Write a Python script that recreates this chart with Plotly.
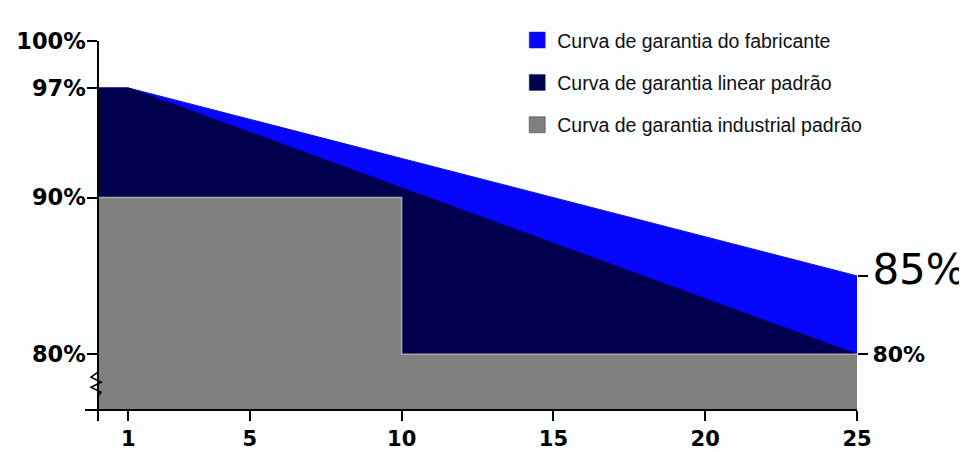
import plotly.graph_objects as go

# ---- data ----
years_mfr = [0, 1, 25]
pct_mfr = [97, 97, 85]
years_lin = [0, 1, 25]
pct_lin = [97, 97, 80]
years_ind = [0, 10, 25]
pct_ind = [90, 80, 80]

names = ["Curva de garantia do fabricante",
         "Curva de garantia linear padrão",
         "Curva de garantia industrial padrão"]
colors = ["#0606ff", "#00004e", "#7f7f7f"]

x_ticks = [0, 1, 5, 10, 15, 20, 25]
x_ticktext = ["", "1", "5", "10", "15", "20", "25"]
y_ticks = [80, 90, 97, 100]
y_ticktext = ["80%", "90%", "97%", "100%"]
y2_ticks = [80, 85]
y2_ticktext = ["<b>80%</b>", "<span style='font-size:42px'>85%</span>"]

XMIN, XMAX = -0.43, 25
YMIN, YMAX = 76.5, 100

fig = go.Figure()
fig.add_trace(go.Scatter(x=years_mfr, y=pct_mfr, mode="lines", fill="tozeroy",
                         fillcolor=colors[0], line=dict(color="#1010c8", width=1),
                         showlegend=False, hoverinfo="skip"))
fig.add_trace(go.Scatter(x=years_lin, y=pct_lin, mode="lines", fill="tozeroy",
                         fillcolor=colors[1], line=dict(color=colors[1], width=1),
                         showlegend=False, hoverinfo="skip"))
fig.add_trace(go.Scatter(x=years_ind, y=pct_ind, mode="lines", line_shape="hv",
                         fill="tozeroy", fillcolor=colors[2],
                         line=dict(color="#a8a8a8", width=1.5),
                         showlegend=False, hoverinfo="skip"))

# legend entries
for i, (n, c) in enumerate(zip(names, colors)):
    fig.add_trace(go.Scatter(x=[None], y=[None], mode="markers", name=n,
                             legendgroup=f"g{i}",
                             marker=dict(symbol="square", size=17, color=c,
                                         line=dict(color="#333333", width=0.5))))

# invisible trace to activate the right axis
fig.add_trace(go.Scatter(x=[None], y=[None], yaxis="y2", showlegend=False))

pos = (0 - XMIN) / (XMAX - XMIN)

fig.update_layout(
    width=959, height=444,
    margin=dict(l=77, r=110, t=33, b=43, autoexpand=False),
    paper_bgcolor="#fbfdfe", plot_bgcolor="#fbfdfe",
    showlegend=True,
    legend=dict(x=0.531, y=0.971, xref="container", yref="container",
                xanchor="left", yanchor="top",
                traceorder="grouped", tracegroupgap=14,
                bgcolor="rgba(0,0,0,0)",
                font=dict(family="Liberation Sans", size=19.5, color="#111111")),
    xaxis=dict(range=[XMIN, XMAX], tickvals=x_ticks, ticktext=x_ticktext,
               automargin=False,
               showgrid=False, zeroline=False, showline=True, linecolor="black",
               linewidth=1.5, ticks="outside", ticklen=10, tickwidth=1.5,
               tickcolor="black",
               tickfont=dict(family="DejaVu Sans", size=21, color="black", weight="bold")),
    yaxis=dict(range=[YMIN, YMAX], tickvals=y_ticks, ticktext=y_ticktext,
               anchor="free", position=pos, automargin=False,
               ticklabelstandoff=-3,
               showgrid=False, zeroline=False, showline=True, linecolor="black",
               linewidth=1.5, ticks="outside", ticklen=10, tickwidth=1.5,
               tickcolor="black",
               tickfont=dict(family="DejaVu Sans", size=22.5, color="black", weight="bold")),
    yaxis2=dict(range=[YMIN, YMAX], tickvals=y2_ticks, ticktext=y2_ticktext,
                overlaying="y", side="right", anchor="x", automargin=False,
                showgrid=False, zeroline=False, showline=False,
                ticks="outside", ticklen=10, tickwidth=1.5, tickcolor="black",
                tickfont=dict(family="DejaVu Sans", size=22, color="black")),
)

# axis break symbol on the y axis
fig.add_shape(type="path", xref="x", yref="y", xsizemode="pixel", ysizemode="pixel",
              xanchor=0, yanchor=78.85,
              path="M0,2 L0,0 L-7,-5 L3,-10 L-7,-15 L3,-20 L0,-24",
              line=dict(color="black", width=1.6))

fig.write_html("out.html")
